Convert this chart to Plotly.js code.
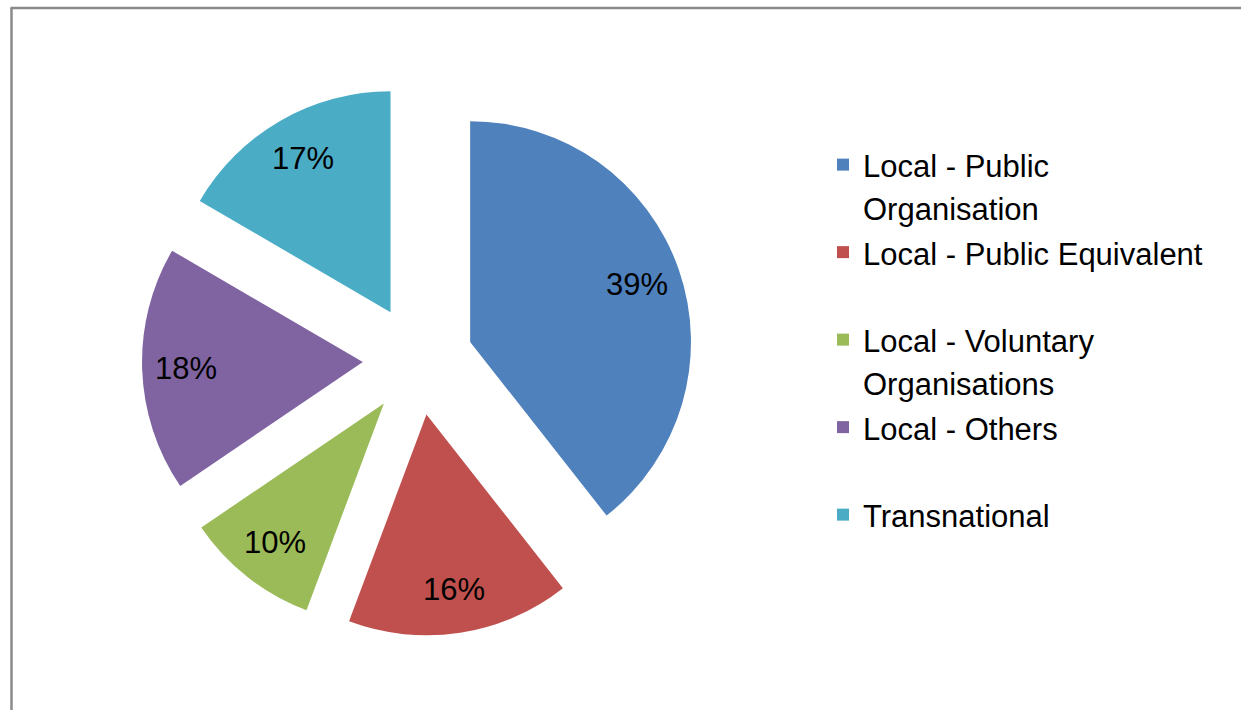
<!DOCTYPE html>
<html>
<head>
<meta charset="utf-8">
<script src="https://cdn.plot.ly/plotly-3.0.1.min.js"></script>
<style>
  html, body { margin: 0; padding: 0; background: #ffffff; }
  #chart { width: 1241px; height: 710px; }
</style>
</head>
<body>
<div id="chart"></div>
<script>
// Data
var categories = [
  "Local - Public Organisation",
  "Local - Public Equivalent",
  "Local - Voluntary Organisations",
  "Local - Others",
  "Transnational"
];
var legendLabels = [
  "Local - Public<br>Organisation",
  "Local - Public Equivalent<br> ",
  "Local - Voluntary<br>Organisations",
  "Local - Others<br> ",
  "Transnational<br> "
];
var shares = [39.4, 16.3, 9.8, 17.9, 16.6];
var sliceColors = ["#4F81BD", "#C0504D", "#9BBB59", "#8064A2", "#4BACC6"];

var W = 1241, H = 710;
var cx = 418, cy = 360, boxSize = 552;
var pullFrac = 0.25;
var labelFrac = 0.8;
var radius = boxSize / (2 * (1 + pullFrac));

var legendVisibleSize = 31;

var trace = {
  type: "pie",
  labels: legendLabels.map(function (s) {
    return '<span style="font-size:' + legendVisibleSize + 'px">' + s.replace("<br>", '</span><br><span style="font-size:' + legendVisibleSize + 'px">') + '</span>';
  }),
  values: shares,
  sort: false,
  direction: "clockwise",
  rotation: 0,
  pull: shares.map(function () { return pullFrac; }),
  marker: { colors: sliceColors, line: { width: 0 } },
  textinfo: "none",
  hoverinfo: "percent",
  domain: {
    x: [(cx - boxSize / 2) / W, (cx + boxSize / 2) / W],
    y: [(H - cy - boxSize / 2) / H, (H - cy + boxSize / 2) / H]
  }
};

// percentage labels placed along each slice's bisector (computed from data)
var total = shares.reduce(function (a, b) { return a + b; }, 0);
var annotations = [];
var cum = 0;
shares.forEach(function (v, i) {
  var mid = (cum + v / 2) / total * 2 * Math.PI;
  cum += v;
  var d = radius * (pullFrac + labelFrac);
  var px = cx + d * Math.sin(mid);
  var py = cy - d * Math.cos(mid);
  annotations.push({
    xref: "paper", yref: "paper",
    x: px / W, y: 1 - py / H,
    xanchor: "center", yanchor: "middle",
    showarrow: false,
    text: Math.round(v / total * 100) + "%",
    font: { family: "Liberation Sans, Arial, sans-serif", size: 31, color: "#000000" }
  });
});

var layout = {
  width: W,
  height: H,
  margin: { l: 0, r: 0, t: 0, b: 0 },
  paper_bgcolor: "#ffffff",
  showlegend: true,
  legend: {
    x: 823 / W,
    xanchor: "left",
    y: 1 - 137 / H,
    yanchor: "top",
    valign: "top",
    font: { family: "Liberation Sans, Arial, sans-serif", size: 32.5, color: "#000000" },
    bgcolor: "rgba(0,0,0,0)",
    tracegroupgap: 0
  },
  annotations: annotations,
  shapes: [
    { type: "line", xref: "paper", yref: "paper", x0: 11.5 / W, x1: 11.5 / W, y0: 0, y1: 1 - 8 / H,
      line: { color: "#8a8a8a", width: 2.5 } },
    { type: "line", xref: "paper", yref: "paper", x0: 10.5 / W, x1: 1, y0: 1 - 8 / H, y1: 1 - 8 / H,
      line: { color: "#8a8a8a", width: 2.5 } }
  ]
};

Plotly.newPlot("chart", [trace], layout, { displayModeBar: false, staticPlot: true });
</script>
</body>
</html>
